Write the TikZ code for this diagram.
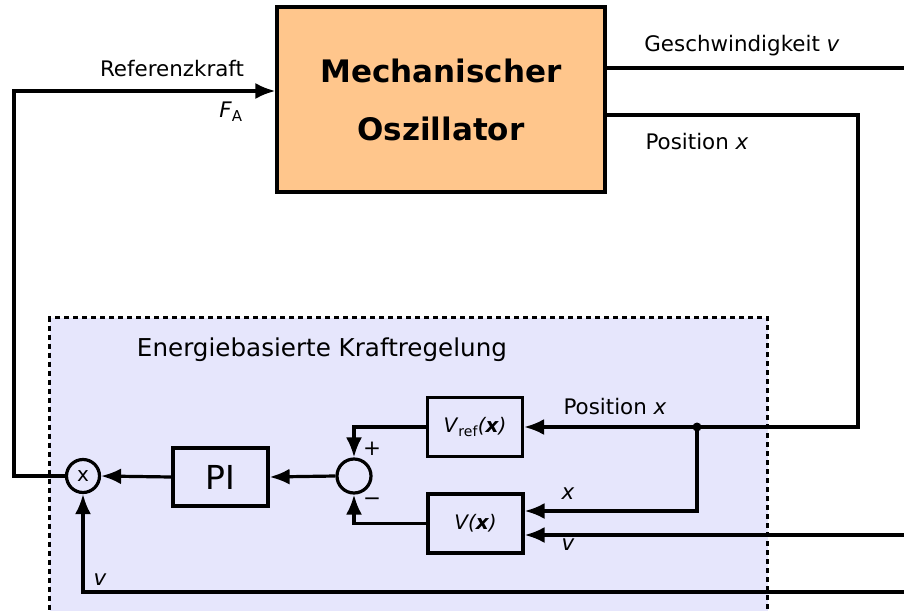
\documentclass[tikz,border=0pt]{standalone}
\usepackage{fontspec}
\setmainfont{DejaVu Sans}
\usetikzlibrary{arrows.meta}
\definecolor{osccol}{RGB}{255,198,140}
\definecolor{lav}{RGB}{230,230,252}
\begin{document}
\begin{tikzpicture}[x=1pt,y=-1pt]
\tikzset{
  conn/.style={line width=3.2pt, -{Latex[length=20pt,width=16pt]}},
  wire/.style={line width=3.2pt},
  blk/.style={draw, line width=3.2pt, minimum width=95pt, minimum height=59pt, inner sep=0pt, font=\fontsize{20}{24}\selectfont},
  lbl/.style={font=\fontsize{21.4}{24}\selectfont, inner sep=0pt},
  circ/.style={draw, circle, line width=3.2pt, minimum size=34pt, inner sep=0pt, font=\fontsize{20}{24}\selectfont}}
\useasboundingbox (0,0) rectangle (904,610);
\clip (0,0) rectangle (904,610);
% control region
\node[draw, line width=3.2pt, dash pattern=on 5pt off 4pt, fill=lav, minimum width=718pt, minimum height=320pt, anchor=north west, inner sep=0pt] (ctrl) at (48,316) {};
\node[lbl, font=\fontsize{24.6}{28}\selectfont] (ctrltitle) at (322,350) {Energiebasierte Kraftregelung};
% oscillator
\node[draw, line width=3.2pt, fill=osccol, minimum width=328pt, minimum height=185pt, inner sep=0pt, align=center,
      font=\fontsize{31}{58}\selectfont\bfseries] (osc) at (441,99.5) {Mechanischer\\Oszillator};
% blocks
\node[blk] (vref) at (475,427) {\textit{V}\textsubscript{ref}\textit{(\textbf{x})}};
\node[blk] (vx) at (475.5,523.5) {\textit{V(\textbf{x})}};
\node[blk, minimum height=58pt, font=\fontsize{33}{36}\selectfont] (pi) at (220.5,477) {PI};
\node[circ] (sum) at (354,476) {};
\node[circ, minimum size=33pt] (mult) at (83,476) {x};
% labels
\node[lbl] (lref) at (172,69) {Referenzkraft};
\node[lbl] (lfa) at (231,112) {\textit{F}\textsubscript{A}};
\node[lbl] (lgv) at (742,46) {Geschwindigkeit \textit{v}};
\node[lbl] (lpx) at (697,142) {Position \textit{x}};
\node[lbl] (lpx2) at (615,407) {Position \textit{x}};
\node[lbl] (lx) at (568,494) {\textit{x}};
\node[lbl] (lv) at (568,545) {\textit{v}};
\node[lbl] (lv2) at (100,580) {\textit{v}};
\node[lbl] (lplus) at (372,449) {+};
\node[lbl] (lminus) at (372,502) {−};
% coordinates
\coordinate (lc) at (14,476);
\coordinate (xr) at (858,115);
\coordinate (j) at (697,427);
\coordinate (vin) at (904,535);
\coordinate (vout) at (904,68);
\coordinate (vbot) at (904,592);
% connectors
\draw[conn] (mult.west) -- (lc) |- (osc.west |- 0,91);
\draw[wire] (osc.east |- vout) -- (vout);
\draw[conn] (osc.east |- xr) -- (xr) |- (vref.east);
\fill (j) circle (4.5pt);
\draw[conn] (j) |- (vx.east |- 0,511);
\draw[conn] (vin) -- (vx.east |- vin);
\draw[conn] (vref.west) -| (sum.north);
\draw[conn] (vx.west) -| (sum.south);
\draw[conn] (sum.west) -- (pi.east);
\draw[conn] (pi.west) -- (mult.east);
\draw[conn] (vbot) -| (mult.south);
\end{tikzpicture}
\end{document}
